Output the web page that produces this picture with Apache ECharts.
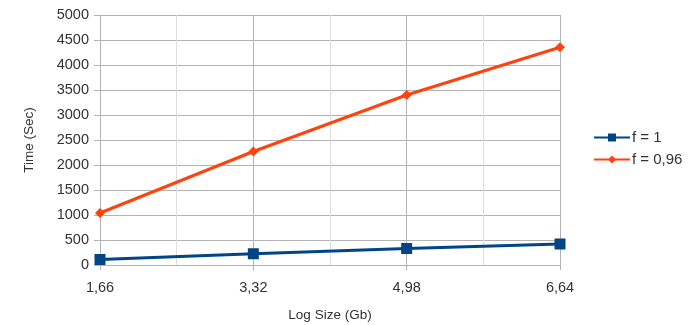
<!DOCTYPE html>
<html><head><meta charset="utf-8">
<script src="https://cdn.jsdelivr.net/npm/echarts@6/dist/echarts.min.js"></script>
<style>html,body{margin:0;padding:0;background:#fff}#c{width:696px;height:325px}</style>
</head><body><div id="c"></div>
<script>
const xValues = [1.66, 3.32, 4.98, 6.64];
const seriesNames = ['f = 1', 'f = 0,96'];
const f1 = [110, 225, 330, 420];
const f096 = [1040, 2270, 3400, 4355];
const yTicks = [0, 500, 1000, 1500, 2000, 2500, 3000, 3500, 4000, 4500, 5000];

const chart = echarts.init(document.getElementById('c'));
const font = 'Liberation Sans, Arial, sans-serif';
chart.setOption({
  animation: false,
  backgroundColor: '#fff',
  grid: {left: 100, right: 136, top: 15, bottom: 60, containLabel: false, outerBoundsMode: 'none'},
  legend: {
    orient: 'vertical', left: 591, top: 128, itemWidth: 36, itemHeight: 10, itemGap: 7, padding: 2,
    textStyle: {fontFamily: font, fontSize: 15, color: '#333', padding: [0,0,0,-3]},
    data: seriesNames
  },
  xAxis: {
    type: 'value', min: xValues[0], max: xValues[xValues.length-1], interval: 1.66,
    name: 'Log Size (Gb)', nameLocation: 'middle', nameGap: 43,
    nameTextStyle: {fontFamily: font, fontSize: 13.5, color: '#333'},
    axisLine: {show: true, lineStyle: {color: '#b3b3b3'}},
    axisTick: {show: true, length: 5, lineStyle: {color: '#b3b3b3'}},
    axisLabel: {fontFamily: font, fontSize: 14.5, color: '#333', margin: 15,
      formatter: v => (Math.round(v*100)/100).toFixed(2).replace('.', ',')},
    splitLine: {show: true, lineStyle: {color: '#b3b3b3'}},
    minorTick: {show: false, splitNumber: 2},
    minorSplitLine: {show: true, lineStyle: {color: '#dddddd'}}
  },
  yAxis: {
    type: 'value', min: yTicks[0], max: yTicks[yTicks.length-1], interval: 500,
    name: 'Time (Sec)', nameLocation: 'middle', nameGap: 64,
    nameTextStyle: {fontFamily: font, fontSize: 13.5, color: '#333'},
    axisLine: {show: true, lineStyle: {color: '#b3b3b3'}},
    axisTick: {show: true, length: 6, lineStyle: {color: '#b3b3b3'}},
    axisLabel: {fontFamily: font, fontSize: 14.5, color: '#333', margin: 11, formatter: v => String(v)},
    splitLine: {show: true, lineStyle: {color: '#b3b3b3'}}
  },
  series: [
    {name: seriesNames[0], type: 'line', data: xValues.map((x,i)=>[x,f1[i]]),
     symbol: 'rect', symbolSize: 11, color: '#004586', lineStyle: {width: 3}, itemStyle: {color: '#004586'}},
    {name: seriesNames[1], type: 'line', data: xValues.map((x,i)=>[x,f096[i]]),
     symbol: 'diamond', symbolSize: 10, color: '#ff420e', lineStyle: {width: 3}, itemStyle: {color: '#ff420e'}}
  ]
});
</script></body></html>
